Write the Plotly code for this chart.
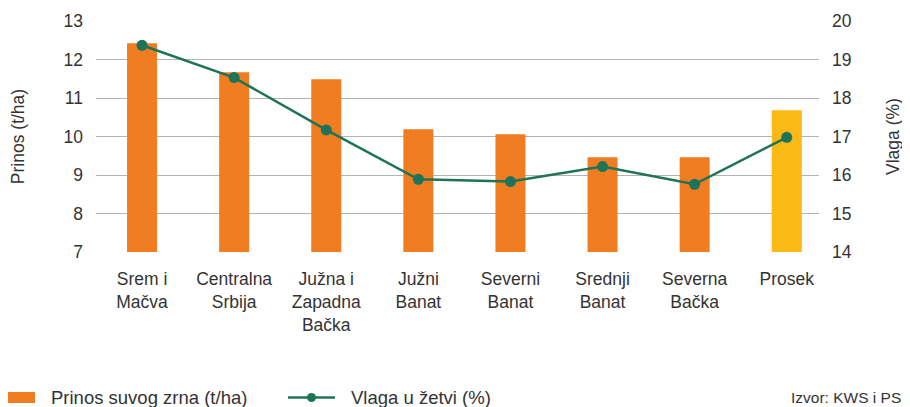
import plotly.graph_objects as go

categories = ["Srem i<br>Mačva", "Centralna<br>Srbija", "Južna i<br>Zapadna<br>Bačka", "Južni<br>Banat",
              "Severni<br>Banat", "Srednji<br>Banat", "Severna<br>Bačka", "Prosek"]
prinos = [12.42, 11.67, 11.49, 10.19, 10.06, 9.46, 9.46, 10.68]
vlaga = [19.37, 18.53, 17.17, 15.89, 15.83, 16.22, 15.76, 16.98]
bar_colors = ["#F07D22"] * 7 + ["#FBB916"]
left_ticks = [7, 8, 9, 10, 11, 12, 13]
right_ticks = [14, 15, 16, 17, 18, 19, 20]
legend_names = ["Prinos suvog zrna (t/ha)", "Vlaga u žetvi (%)"]
source_text = "Izvor: KWS i PSS"

FONT = "Liberation Sans, Arial, sans-serif"
TXT = "#333333"
ORANGE = "#F07D22"
GREEN = "#1E7359"

OFF = 8  # page body margin
W, H = 910 - OFF, 407 - OFF
# plot area in screen pixels: x 96..819, y 21..252
L, R, T, B = 96 - OFF, 819 - OFF, 21 - OFF, 252 - OFF
def px(x):
    return (x - OFF - L) / (R - L)
def py(y):
    return (B - (y - OFF)) / (B - T)

fig = go.Figure()
fig.add_trace(go.Bar(x=categories, y=prinos, marker=dict(color=bar_colors, line=dict(width=0)),
                     name=legend_names[0], yaxis="y", showlegend=False))
fig.add_trace(go.Scatter(x=categories, y=vlaga, mode="lines+markers", name=legend_names[1],
                         line=dict(color=GREEN, width=2.5), marker=dict(size=11, color=GREEN),
                         yaxis="y2", showlegend=False))

shapes = [
    dict(type="rect", xref="paper", yref="paper", x0=px(6), x1=px(35), y0=py(403), y1=py(392),
         fillcolor=ORANGE, line=dict(width=0)),
    dict(type="line", xref="paper", yref="paper", x0=px(288), x1=px(335), y0=py(397.5), y1=py(397.5),
         line=dict(color=GREEN, width=2.5)),
    dict(type="circle", xref="paper", yref="paper", x0=px(307), x1=px(316), y0=py(402), y1=py(393),
         fillcolor=GREEN, line=dict(width=0)),
]
annotations = [
    dict(text=legend_names[0], xref="paper", yref="paper", x=px(49), y=py(397.5), xanchor="left",
         yanchor="middle", showarrow=False, font=dict(size=18.5, color=TXT)),
    dict(text=legend_names[1], xref="paper", yref="paper", x=px(349), y=py(397.5), xanchor="left",
         yanchor="middle", showarrow=False, font=dict(size=18.5, color=TXT)),
    dict(text=source_text, xref="paper", yref="paper", x=px(789), y=py(397.5), xanchor="left",
         yanchor="middle", showarrow=False, font=dict(size=15.5, color=TXT)),
]

fig.update_layout(
    width=W, height=H,
    margin=dict(l=L, r=W - R, t=T, b=H - B),
    plot_bgcolor="white", paper_bgcolor="white",
    font=dict(family=FONT, size=17, color=TXT),
    bargap=0.674,
    showlegend=False,
    xaxis=dict(range=[-0.5, 7.35], showgrid=False, showline=False, ticks="outside", ticklen=0,
               ticklabelstandoff=11, tickfont=dict(size=17.5, color=TXT), automargin=False),
    yaxis=dict(range=[7, 13], tickvals=left_ticks, showgrid=True, gridcolor="#B3B3B3", gridwidth=1.3,
               zeroline=False, showline=False, ticklabelstandoff=12, automargin=False,
               tickfont=dict(size=17.5, color=TXT),
               title=dict(text="Prinos (t/ha)", standoff=34, font=dict(size=17.5, color=TXT))),
    yaxis2=dict(range=[14, 20], tickvals=right_ticks, overlaying="y", side="right", showgrid=False,
                zeroline=False, showline=False, ticklabelstandoff=12, automargin=False,
                tickfont=dict(size=17.5, color=TXT),
                title=dict(text="Vlaga (%)", standoff=36, font=dict(size=17.5, color=TXT))),
    shapes=shapes,
    annotations=annotations,
)

fig.write_html("out.html")
